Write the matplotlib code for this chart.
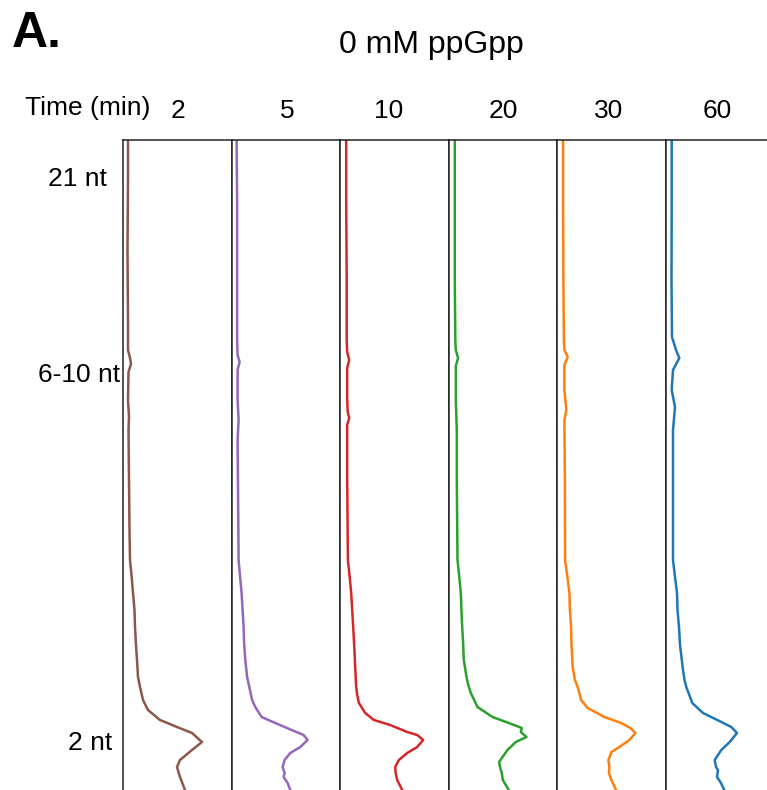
import matplotlib
matplotlib.use("Agg")
import matplotlib.pyplot as plt
import matplotlib.transforms as mtransforms

plt.rcParams['font.family'] = ['Liberation Sans', 'DejaVu Sans']

# lanes: time point label, colour, migration position (top = 0) and band intensity
times = ['2', '5', '10', '20', '30', '60']
colors = ['tab:brown', 'tab:purple', 'tab:red', 'tab:green', 'tab:orange', 'tab:blue']

pos_2 = [0, 40, 110, 180, 210, 218, 224, 232, 260, 277, 290, 340, 390, 420, 435, 453,
         470, 487, 505, 520, 537, 547, 560, 570, 580, 587, 593, 602, 610, 620, 627, 637, 650]
int_2 = [5, 5, 4.5, 5, 5, 7, 8, 5.5, 5, 6, 5.5, 6, 6.5, 7, 8.5, 10, 11.5, 12, 13, 14,
         15, 17, 20, 25, 37, 54, 69, 79, 69, 57, 54, 57, 62]

pos_5 = [0, 60, 140, 200, 215, 222, 230, 260, 280, 300, 360, 420, 437, 453, 470, 487,
         503, 520, 537, 547, 560, 567, 577, 583, 590, 595, 600, 607, 613, 620, 627, 633,
         637, 643, 650]
int_5 = [5, 5.5, 5.5, 5.5, 6, 8, 6, 6, 7, 6, 6.5, 7, 8.5, 10, 11, 12, 12.5, 13.7, 15.5,
         17.7, 20.5, 23.7, 30, 43.7, 60, 72, 76, 68.7, 58.7, 53, 51, 53, 52, 56, 58.7]

pos_10 = [0, 60, 140, 200, 212, 220, 228, 260, 272, 278, 285, 340, 420, 437, 453, 470,
          487, 505, 527, 547, 555, 563, 573, 580, 585, 592, 595, 600, 607, 613, 620, 627,
          633, 640, 650]
int_10 = [6, 6, 6.5, 6.5, 7, 9, 7, 7, 7.5, 9, 7, 7, 7.7, 9.5, 11, 12, 13, 14, 15, 16,
          17, 18.7, 25, 33.7, 50, 67, 77, 83, 77, 67, 58.7, 55, 55.5, 57, 62]

pos_20 = [0, 60, 140, 200, 210, 218, 226, 260, 290, 340, 420, 437, 453, 480, 503, 520,
          537, 545, 553, 567, 577, 583, 588, 592, 597, 602, 610, 617, 622, 628, 633, 640, 650]
int_20 = [6, 6, 6, 6.5, 7, 9.3, 7, 7, 8, 8, 8.7, 10.5, 12, 13, 14.3, 15, 17.7, 19.5, 22,
          28.7, 43.7, 60, 73, 72, 77.7, 67, 58.7, 53.7, 50.3, 51.5, 53, 54, 60]

pos_30 = [0, 60, 140, 200, 210, 217, 225, 250, 270, 280, 340, 420, 437, 453, 470, 487,
          503, 527, 540, 547, 560, 568, 577, 583, 588, 593, 600, 607, 612, 620, 627, 633,
          640, 650]
int_30 = [5.7, 5.7, 6, 6.5, 7, 10.3, 7, 7, 9, 7, 7.5, 7.7, 10, 12, 12.5, 13.7, 14, 15.3,
          17.5, 20.3, 23.7, 30.3, 47, 63.7, 73, 78, 72, 62, 54, 51, 52, 51.5, 54, 58.7]

pos_60 = [0, 60, 140, 197, 210, 218, 230, 250, 267, 290, 340, 420, 437, 453, 470, 487,
          505, 530, 540, 547, 563, 573, 582, 587, 593, 602, 610, 620, 627, 630, 637, 643, 650]
int_60 = [5.7, 5.7, 5.5, 6, 10, 13.3, 7, 5.7, 9, 7, 7, 7, 9, 11, 11.5, 13, 14, 17, 18.5,
          20.3, 26.3, 37, 55.3, 65.3, 71, 63.7, 55.3, 48.7, 50, 52, 51, 55, 58.3]

positions = [pos_2, pos_5, pos_10, pos_20, pos_30, pos_60]
intensities = [int_2, int_5, int_10, int_20, int_30, int_60]

size_ticks = [37, 232, 600]
size_labels = ['21 nt', '6-10 nt', '2 nt']
label_shift_px = [-13, 0, -8]
title_shift_px = [1, 1, -6, 0, -3, -3]

W, H = 767, 790
fig = plt.figure(figsize=(W / 100, H / 100), dpi=100)

lane_w = 108.6
for i in range(6):
    ax = fig.add_axes([(123 + lane_w * i) / W, 0, lane_w / W, 650 / H])
    ax.plot(intensities[i], positions[i], color=colors[i], lw=1.8)
    ax.set_xlim(0, lane_w)
    ax.set_ylim(650, 0)
    ax.set_xticks([])
    ax.spines['bottom'].set_visible(False)
    for s in ['left', 'top', 'right']:
        ax.spines[s].set_linewidth(1.1)
        ax.spines[s].set_color('#222222')
    ax.set_title(times[i], fontsize=19, pad=16, x=0.5 + title_shift_px[i] / lane_w)
    if i == 0:
        ax.set_yticks(size_ticks)
        ax.set_yticklabels(size_labels, fontsize=19)
        ax.tick_params(axis='y', length=0, pad=2)
        for lab, dx in zip(ax.get_yticklabels(), label_shift_px):
            lab.set_transform(lab.get_transform() +
                              mtransforms.ScaledTranslation(dx / 100, 0, fig.dpi_scale_trans))
    else:
        ax.set_yticks([])

fig.text(25 / W, 1 - 108 / H, 'Time (min)', fontsize=19, va='center', ha='left')
fig.text(431 / W, 1 - 45 / H, '0 mM ppGpp', fontsize=23, va='center', ha='center')
fig.text(12 / W, 1 - 34 / H, 'A.', fontsize=36, fontweight='bold', va='center', ha='left')

fig.savefig('out.png', dpi=100)
